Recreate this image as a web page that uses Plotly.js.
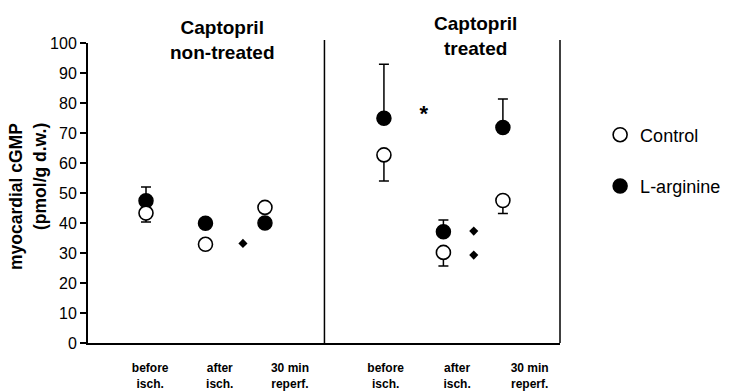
<!DOCTYPE html>
<html>
<head>
<meta charset="utf-8">
<script src="https://cdn.plot.ly/plotly-3.0.1.min.js"></script>
<style>html,body{margin:0;padding:0;background:#fff;}#chart{width:739px;height:392px;}</style>
</head>
<body>
<div id="chart"></div>
<script>
// ---- data ----
var panels = ["Captopril<br>non-treated", "Captopril<br>treated"];
var timepoints = ["before<br>isch.", "after<br>isch.", "30 min<br>reperf.", "before<br>isch.", "after<br>isch.", "30 min<br>reperf."];
var xPos = [1, 2, 3, 5, 6, 7];
var controlMean = [43.3, 32.9, 45.2, 62.7, 30.2, 47.5];
var controlErrLow = [3.0, 0, 0, 8.7, 4.5, 4.3];
var larginineMean = [47.4, 39.9, 40.0, 74.9, 37.1, 71.8];
var larginineErrHigh = [4.6, 0, 0, 18.0, 3.9, 9.5];
var diamondX = [2.63, 6.51, 6.51];
var diamondY = [33.2, 37.3, 29.3];
var starX = [5.67];
var starY = [75.8];
var yTicks = [0, 10, 20, 30, 40, 50, 60, 70, 80, 90, 100];

var FONT = "Liberation Sans, Arial, sans-serif";
var zeros = xPos.map(function(){return 0;});

var traces = [
  {
    type: "scatter", mode: "markers", name: "L-arginine",
    x: xPos, y: larginineMean, legendrank: 2, legendgroup: "b",
    marker: {symbol: "circle", size: 14, color: "#000", line: {color: "#000", width: 1.5}},
    error_y: {type: "data", symmetric: false, array: larginineErrHigh, arrayminus: zeros,
              color: "#000", thickness: 1.5, width: 5}
  },
  {
    type: "scatter", mode: "markers", name: "Control",
    x: xPos, y: controlMean, legendrank: 1, legendgroup: "a",
    marker: {symbol: "circle", size: 14, color: "#fff", line: {color: "#000", width: 1.6}},
    error_y: {type: "data", symmetric: false, array: zeros, arrayminus: controlErrLow,
              color: "#000", thickness: 1.5, width: 5}
  },
  {
    type: "scatter", mode: "markers", showlegend: false, hoverinfo: "skip",
    x: diamondX, y: diamondY,
    marker: {symbol: "diamond", size: 7, color: "#000"}
  },
  {
    type: "scatter", mode: "text", showlegend: false, hoverinfo: "skip",
    x: starX, y: starY, text: starX.map(function(){return "*";}),
    textposition: "middle center",
    textfont: {family: FONT, size: 22, color: "#000", weight: "bold"}
  }
];

var layout = {
  width: 739, height: 392,
  margin: {l: 88, r: 179, t: 43, b: 49},
  paper_bgcolor: "#fff", plot_bgcolor: "#fff",
  font: {family: FONT, color: "#000"},
  showlegend: true,
  legend: {x: 1.085, xanchor: "left", y: 0.755, yanchor: "top",
           font: {family: FONT, size: 18, color: "#000"},
           tracegroupgap: 25, bgcolor: "rgba(0,0,0,0)", borderwidth: 0},
  xaxis: {
    range: [0.025, 7.96], showgrid: false, zeroline: false,
    showline: true, linecolor: "#000", linewidth: 2,
    ticks: "", tickmode: "array",
    tickvals: [1.07, 2.24, 3.42, 5.03, 6.23, 7.45],
    ticktext: timepoints,
    tickfont: {family: FONT, size: 12, color: "#000", weight: "bold"},
    ticklabelstandoff: 13
  },
  yaxis: {
    range: [0, 100], showgrid: false, zeroline: false,
    showline: true, linecolor: "#000", linewidth: 2,
    ticks: "outside", ticklen: 6, tickwidth: 1.5, tickcolor: "#000",
    tickmode: "array", tickvals: yTicks,
    tickfont: {family: FONT, size: 16, color: "#000"}
  },
  shapes: [
    {type: "line", xref: "x", yref: "paper", x0: 4, x1: 4, y0: 0, y1: 1.01,
     line: {color: "#000", width: 1.5}},
    {type: "line", xref: "paper", yref: "paper", x0: 1, x1: 1, y0: 0, y1: 1.01,
     line: {color: "#000", width: 1.5}}
  ],
  annotations: [
    {text: panels[0], xref: "paper", yref: "paper", x: 0.284, y: 1.01,
     xanchor: "center", yanchor: "middle", showarrow: false,
     font: {family: FONT, size: 19, color: "#000", weight: "bold"}},
    {text: panels[1], xref: "paper", yref: "paper", x: 0.822, y: 1.025,
     xanchor: "center", yanchor: "middle", showarrow: false,
     font: {family: FONT, size: 19, color: "#000", weight: "bold"}},
    {text: "myocardial cGMP", xref: "paper", yref: "paper",
     x: (16 - 88) / 472, y: (343 - 197) / 300, xanchor: "center", yanchor: "middle",
     textangle: -90, showarrow: false,
     font: {family: FONT, size: 17.5, color: "#000", weight: "bold"}},
    {text: "(pmol/g d.w.)", xref: "paper", yref: "paper",
     x: (40 - 88) / 472, y: (343 - 177) / 300, xanchor: "center", yanchor: "middle",
     textangle: -90, showarrow: false,
     font: {family: FONT, size: 17.5, color: "#000", weight: "bold"}}
  ]
};

Plotly.newPlot("chart", traces, layout, {displayModeBar: false, staticPlot: true});
</script>
</body>
</html>
